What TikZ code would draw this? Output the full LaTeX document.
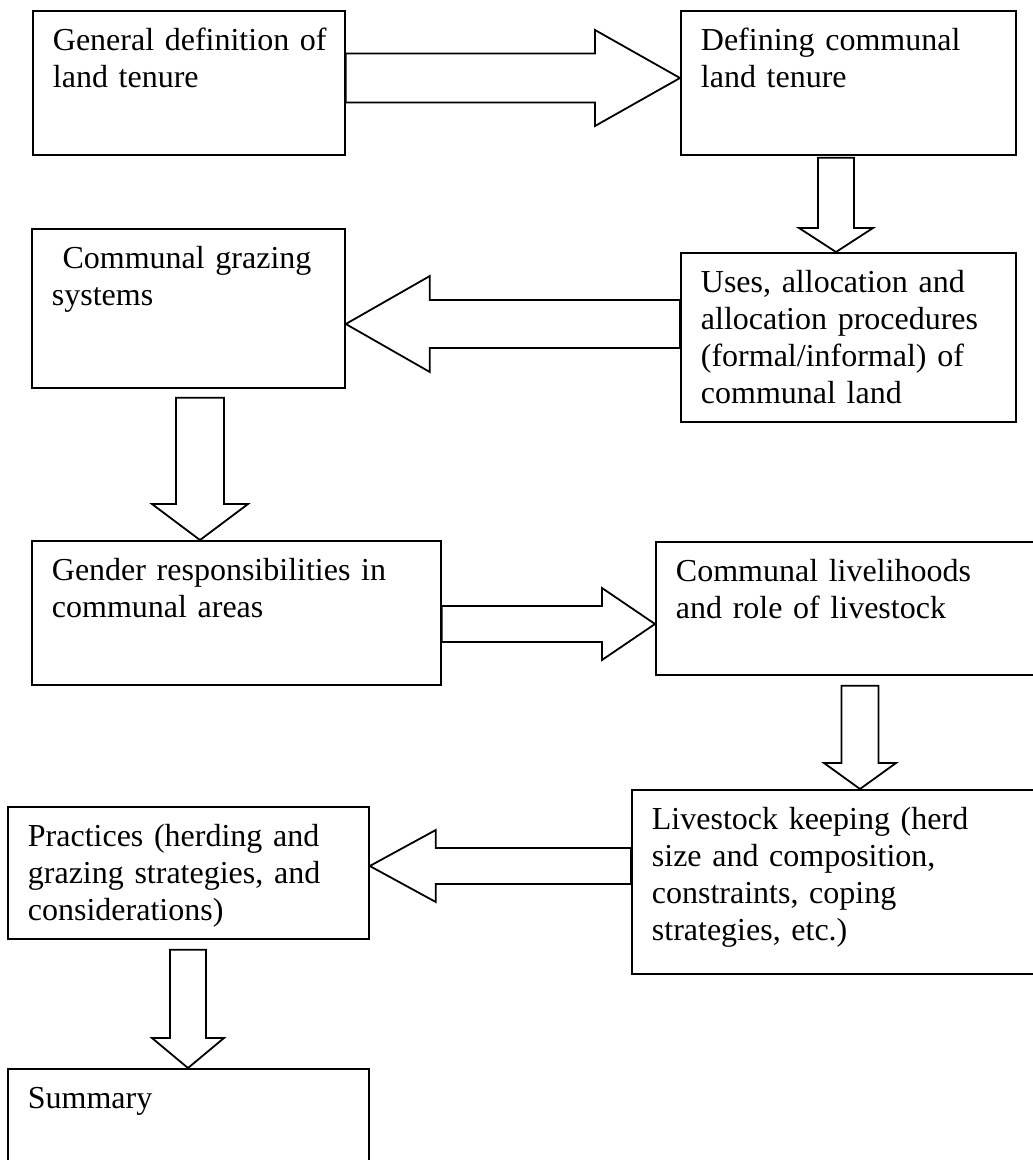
\documentclass[tikz,border=0pt]{standalone}
\usepackage{fontspec}
\setmainfont{Liberation Serif}
\usetikzlibrary{calc}

\begin{document}
\begin{tikzpicture}[x=1pt,y=-1pt]
                \tikzstyle{box}=[draw, line width=1.8pt, anchor=north west, inner xsep=20pt, inner ysep=0pt, text height=40pt, align=left, font=\fontsize{32}{36.7}\selectfont]
                \tikzstyle{blk}=[draw, line width=1.8pt, line join=miter]
                \useasboundingbox (0,0) rectangle (1033,1160);
                \clip (0,0) rectangle (1033,1160);
                % boxes
                \node[box, text width=272pt, text depth=104pt] (gen) at (32,10) {\mbox{General definition of}\\land tenure};
                \node[box, text width=295pt, text depth=104pt] (com) at (680,10) {Defining communal\\land tenure};
                \node[box, text width=295pt, text depth=129pt] (use) at (680,252) {Uses, allocation and\\allocation procedures\\(formal/informal) of\\communal land};
                \node[box, text width=273pt, text depth=119pt] (grz) at (31,228) {~Communal grazing\\systems};
                \node[box, text width=369pt, text depth=104pt] (gnd) at (31,540) {Gender responsibilities in\\communal areas};
                \node[box, text width=345pt, text depth=93pt] (liv) at (655,541) {Communal livelihoods\\and role of livestock};
                \node[box, text width=369pt, text depth=144pt] (kep) at (631,789) {Livestock keeping (herd\\size and composition,\\constraints, coping\\strategies, etc.)};
                \node[box, text width=321pt, text depth=92pt] (prc) at (7,806) {Practices (herding and\\grazing strategies, and\\considerations)};
                \node[box, text width=321pt, text depth=70pt] (sum) at (7,1068) {Summary};
                % block arrows
                \coordinate (t1) at (gen.east |- 0,78);
                \coordinate (h1) at (com.west |- 0,78);
                \draw[blk] ($(t1)+(0,-24.5)$) -- ($(h1)+(-85,-24.5)$) -- ($(h1)+(-85,-48)$) -- (h1) -- ($(h1)+(-85,48)$) -- ($(h1)+(-85,24.5)$) -- ($(t1)+(0,24.5)$) -- cycle;
                \coordinate (t2) at ($(com.south -| 836,0)+(0,2)$);
                \coordinate (h2) at (use.north -| 836,0);
                \draw[blk] ($(t2)+(-18,0)$) -- ($(h2)+(-18,-24)$) -- ($(h2)+(-37,-24)$) -- (h2) -- ($(h2)+(37,-24)$) -- ($(h2)+(18,-24)$) -- ($(t2)+(18,0)$) -- cycle;
                \coordinate (t3) at (use.west |- 0,324);
                \coordinate (h3) at (grz.east |- 0,324);
                \draw[blk] ($(t3)+(0,-24)$) -- ($(h3)+(84,-24)$) -- ($(h3)+(84,-48)$) -- (h3) -- ($(h3)+(84,48)$) -- ($(h3)+(84,24)$) -- ($(t3)+(0,24)$) -- cycle;
                \coordinate (t4) at ($(grz.south -| 200,0)+(0,9)$);
                \coordinate (h4) at (gnd.north -| 200,0);
                \draw[blk] ($(t4)+(-24,0)$) -- ($(h4)+(-24,-36)$) -- ($(h4)+(-48,-36)$) -- (h4) -- ($(h4)+(48,-36)$) -- ($(h4)+(24,-36)$) -- ($(t4)+(24,0)$) -- cycle;
                \coordinate (t5) at (gnd.east |- 0,624);
                \coordinate (h5) at (liv.west |- 0,624);
                \draw[blk] ($(t5)+(0,-18)$) -- ($(h5)+(-53,-18)$) -- ($(h5)+(-53,-36)$) -- (h5) -- ($(h5)+(-53,36)$) -- ($(h5)+(-53,18)$) -- ($(t5)+(0,18)$) -- cycle;
                \coordinate (t6) at ($(liv.south -| 860,0)+(0,10)$);
                \coordinate (h6) at (kep.north -| 860,0);
                \draw[blk] ($(t6)+(-18.5,0)$) -- ($(h6)+(-18.5,-26)$) -- ($(h6)+(-36,-26)$) -- (h6) -- ($(h6)+(36,-26)$) -- ($(h6)+(18.5,-26)$) -- ($(t6)+(18.5,0)$) -- cycle;
                \coordinate (t7) at (kep.west |- 0,866);
                \coordinate (h7) at (prc.east |- 0,866);
                \draw[blk] ($(t7)+(0,-18)$) -- ($(h7)+(66,-18)$) -- ($(h7)+(66,-36)$) -- (h7) -- ($(h7)+(66,36)$) -- ($(h7)+(66,18)$) -- ($(t7)+(0,18)$) -- cycle;
                \coordinate (t8) at ($(prc.south -| 188,0)+(0,10)$);
                \coordinate (h8) at (sum.north -| 188,0);
                \draw[blk] ($(t8)+(-18,0)$) -- ($(h8)+(-18,-30)$) -- ($(h8)+(-36,-30)$) -- (h8) -- ($(h8)+(36,-30)$) -- ($(h8)+(18,-30)$) -- ($(t8)+(18,0)$) -- cycle;
\end{tikzpicture}
\end{document}
